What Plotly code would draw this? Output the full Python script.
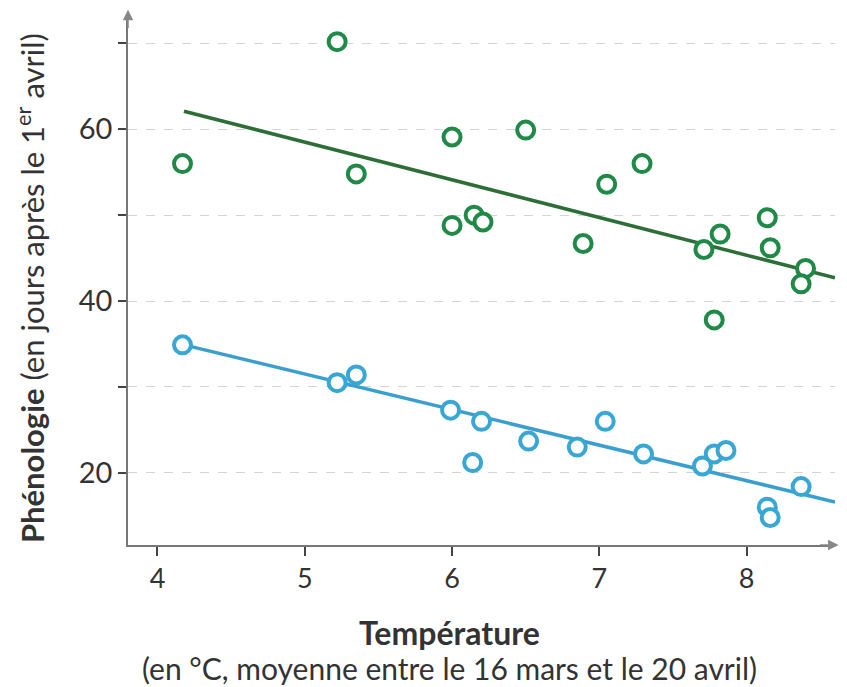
import plotly.graph_objects as go

# Data
green_x = [4.17, 5.22, 5.35, 6.00, 6.00, 6.15, 6.21, 6.50, 6.89, 7.05, 7.29, 7.71, 7.82, 7.78, 8.14, 8.16, 8.40, 8.37]
green_y = [56.0, 70.2, 54.8, 59.1, 48.8, 50.0, 49.2, 59.9, 46.7, 53.6, 56.0, 46.0, 47.8, 37.8, 49.7, 46.2, 43.8, 42.0]

blue_x = [4.17, 5.22, 5.35, 5.99, 6.20, 6.14, 6.52, 6.85, 7.04, 7.30, 7.70, 7.78, 7.86, 8.14, 8.16, 8.37]
blue_y = [34.9, 30.5, 31.4, 27.3, 26.0, 21.2, 23.7, 23.0, 26.0, 22.2, 20.8, 22.2, 22.6, 16.0, 14.8, 18.4]

# trend lines as drawn (endpoints)
trend_x = [4.18, 8.6]
green_trend_y = [62.1, 42.7]
blue_trend_y = [34.9, 16.6]

x_ticks = [4, 5, 6, 7, 8]
y_labels = [20, 40, 60]
grid_y = [20, 30, 40, 50, 60, 70]

GREEN = "#1f8a47"
GREEN_LINE = "#2d6e36"
BLUE = "#38a7d3"
BLUE_LINE = "#3a9fcf"
FONT = "Lato, Open Sans, sans-serif"
TXT = "#333333"

fig = go.Figure()

fig.add_trace(go.Scatter(x=trend_x, y=green_trend_y, mode="lines",
                         line=dict(color=GREEN_LINE, width=3.5), hoverinfo="skip"))
fig.add_trace(go.Scatter(x=trend_x, y=blue_trend_y, mode="lines",
                         line=dict(color=BLUE_LINE, width=3.5), hoverinfo="skip"))
fig.add_trace(go.Scatter(x=green_x, y=green_y, mode="markers",
                         marker=dict(symbol="circle", size=17, color="white",
                                     line=dict(color=GREEN, width=4))))
fig.add_trace(go.Scatter(x=blue_x, y=blue_y, mode="markers",
                         marker=dict(symbol="circle", size=17, color="white",
                                     line=dict(color=BLUE, width=4))))

fig.update_layout(
    width=839, height=679,
    margin=dict(l=120, r=12, t=7, b=142),
    paper_bgcolor="white", plot_bgcolor="white",
    showlegend=False,
    font=dict(family=FONT, color=TXT, size=26),
    xaxis=dict(range=[3.80, 8.60], tickvals=x_ticks, ticks="outside", ticklen=9,
               tickwidth=2, tickcolor="#444", showgrid=False, zeroline=False,
               showline=True, linecolor="#777", linewidth=1.5,
               tickfont=dict(size=27, color=TXT, family=FONT)),
    yaxis=dict(range=[11.6, 73.3], tickvals=grid_y,
               ticktext=[str(v) if v in y_labels else "" for v in grid_y],
               ticks="outside", ticklen=8, tickwidth=2, tickcolor="#444",
               showgrid=True, gridcolor="#d4d4d4", griddash="dash", gridwidth=1,
               zeroline=False, showline=True, linecolor="#777", linewidth=1.5,
               tickfont=dict(size=29, color=TXT, family=FONT)),
    annotations=[
        dict(xref="paper", yref="paper", x=1.005, y=0, ax=-20, ay=0,
             showarrow=True, arrowhead=2, arrowsize=1.4, arrowwidth=1.5,
             arrowcolor="#888", text=""),
        dict(xref="paper", yref="paper", x=0, y=1.01, ax=0, ay=20,
             showarrow=True, arrowhead=2, arrowsize=1.4, arrowwidth=1.5,
             arrowcolor="#888", text=""),
        dict(xref="paper", yref="paper", x=-0.137, y=0.485, yanchor="middle",
             xanchor="center", textangle=-90, showarrow=False,
             text="<b>Phénologie</b> (en jours après le 1<sup>er</sup> avril)",
             font=dict(size=31, color=TXT, family=FONT)),
        dict(xref="paper", yref="paper", x=0.455, y=-0.125, xanchor="center",
             yanchor="top", showarrow=False,
             text="<b>Température</b>",
             font=dict(size=32, color=TXT, family=FONT)),
        dict(xref="paper", yref="paper", x=0.455, y=-0.195, xanchor="center",
             yanchor="top", showarrow=False,
             text="(en °C, moyenne entre le 16 mars et le 20 avril)",
             font=dict(size=30, color=TXT, family=FONT)),
    ],
)

fig.write_html("out.html")
